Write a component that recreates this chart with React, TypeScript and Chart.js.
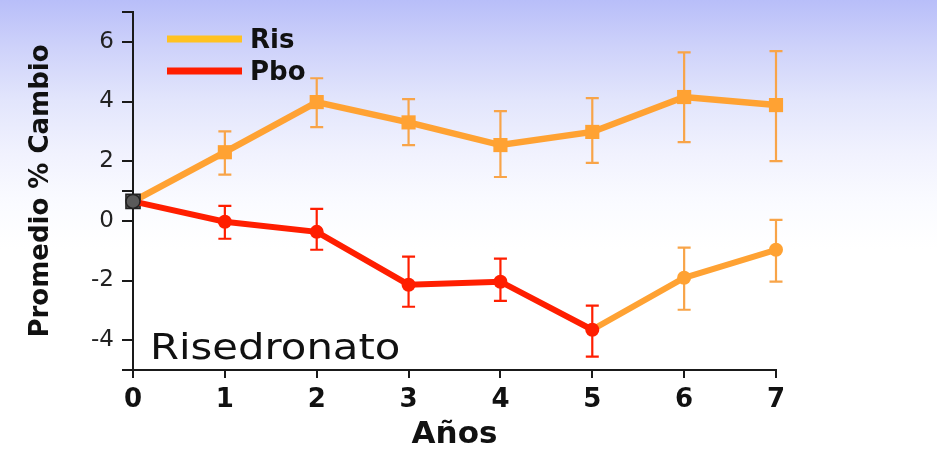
import React, { useEffect, useRef } from "react";
import { Chart, registerables } from "chart.js";

Chart.register(...registerables);

const years = [0, 1, 2, 3, 4, 5, 6, 7];
const risValues = [0.65, 2.3, 3.98, 3.3, 2.54, 2.98, 4.15, 3.88];
const risUpper = [null, 3.0, 4.78, 4.08, 3.68, 4.11, 5.65, 5.69];
const risLower = [null, 1.55, 3.14, 2.54, 1.47, 1.94, 2.64, 2.0];
const pboValues = [0.65, -0.03, -0.37, -2.14, -2.04, -3.65, -1.91, -0.97];
const pboUpper = [null, 0.5, 0.4, -1.2, -1.27, -2.84, -0.9, 0.03];
const pboLower = [null, -0.6, -0.97, -2.88, -2.68, -4.55, -2.98, -2.04];
const yTickValues = [-5, -4, -2, 0, 1, 2, 4, 6, 7];
const yLabelValues = [-4, -2, 0, 2, 4, 6];
const legendLabels = ["Ris", "Pbo"];
const chartLabel = "Risedronato";

const ORANGE = "#FFA233";
const ORANGE_BAR = "#F8A448";
const LEGEND_YELLOW = "#FFC222";
const RED = "#FF1E00";
const GREY = "#5a5a5a";
const AXIS = "#1a1a1a";

export default function App() {
  const ref = useRef<HTMLCanvasElement>(null);

  useEffect(() => {
    document.body.style.margin = "0";
    const canvas = ref.current!;

    const pboColorAt = (i: number) => (i === 0 ? GREY : i >= 6 ? ORANGE : RED);
    const pboBarColorAt = (i: number) => (i >= 6 ? ORANGE_BAR : RED);

    const errorBars = {
      id: "errorBars",
      beforeDatasetsDraw(chart: any) {
        const { ctx, scales } = chart;
        const xs = scales.x;
        const ys = scales.y;
        const draw = (x: number, hi: number, lo: number, color: string) => {
          const px = xs.getPixelForValue(x);
          const pyH = ys.getPixelForValue(hi);
          const pyL = ys.getPixelForValue(lo);
          const cap = 6.5;
          ctx.save();
          ctx.strokeStyle = color;
          ctx.lineWidth = 2.2;
          ctx.beginPath();
          ctx.moveTo(px, pyH);
          ctx.lineTo(px, pyL);
          ctx.moveTo(px - cap, pyH);
          ctx.lineTo(px + cap, pyH);
          ctx.moveTo(px - cap, pyL);
          ctx.lineTo(px + cap, pyL);
          ctx.stroke();
          ctx.restore();
        };
        years.forEach((yr, i) => {
          if (risUpper[i] != null && risLower[i] != null)
            draw(yr, risUpper[i] as number, risLower[i] as number, ORANGE_BAR);
          if (pboUpper[i] != null && pboLower[i] != null)
            draw(yr, pboUpper[i] as number, pboLower[i] as number, pboBarColorAt(i));
        });
      },
    };

    const overlay = {
      id: "overlay",
      afterDraw(chart: any) {
        const { ctx } = chart;
        ctx.save();
        const entries = [
          { text: legendLabels[0], color: LEGEND_YELLOW, y: 39 },
          { text: legendLabels[1], color: RED, y: 71 },
        ];
        entries.forEach((e) => {
          ctx.strokeStyle = e.color;
          ctx.lineWidth = 7;
          ctx.beginPath();
          ctx.moveTo(167, e.y);
          ctx.lineTo(242, e.y);
          ctx.stroke();
          ctx.fillStyle = "#111";
          ctx.font = "bold 26px 'DejaVu Sans'";
          ctx.textBaseline = "middle";
          ctx.textAlign = "left";
          ctx.fillText(e.text, 250, e.y + 2);
        });
        ctx.font = "36px 'DejaVu Sans'";
        ctx.textBaseline = "alphabetic";
        ctx.fillStyle = "#111";
        ctx.translate(150, 359);
        ctx.scale(1.16, 1);
        ctx.fillText(chartLabel, 0, 0);
        ctx.restore();
      },
    };

    const chart = new Chart(canvas, {
      type: "line",
      data: {
        datasets: [
          {
            label: legendLabels[1],
            data: years.map((x, i) => ({ x, y: pboValues[i] })),
            borderColor: RED,
            borderWidth: 6,
            segment: {
              borderColor: (c: any) => (c.p1DataIndex >= 6 ? ORANGE : RED),
            },
            pointStyle: "circle",
            pointRadius: 7,
            pointBackgroundColor: years.map((_, i) => pboColorAt(i)),
            pointBorderColor: years.map((_, i) => (i === 0 ? "#222" : pboColorAt(i))),
            pointBorderWidth: years.map((_, i) => (i === 0 ? 1.5 : 0)),
            clip: false,
            tension: 0,
          },
          {
            label: legendLabels[0],
            data: years.map((x, i) => ({ x, y: risValues[i] })),
            borderColor: ORANGE,
            borderWidth: 6.5,
            pointStyle: "rect",
            pointRadius: 10,
            pointBackgroundColor: years.map((_, i) => (i === 0 ? GREY : ORANGE)),
            pointBorderColor: years.map((_, i) => (i === 0 ? "#222" : ORANGE)),
            pointBorderWidth: years.map((_, i) => (i === 0 ? 1.5 : 0)),
            clip: false,
            tension: 0,
          },
        ],
      },
      options: {
        responsive: false,
        animation: false,
        layout: { padding: { top: 12, right: 161, left: 0, bottom: 0 } },
        plugins: {
          legend: { display: false },
          tooltip: { enabled: false },
        },
        scales: {
          x: {
            type: "linear",
            min: 0,
            max: 7,
            ticks: {
              stepSize: 1,
              color: "#111",
              font: { family: "'DejaVu Sans'", size: 26, weight: "bold" },
              padding: 7,
            },
            grid: {
              drawOnChartArea: false,
              drawTicks: true,
              tickLength: 8,
              color: AXIS,
              lineWidth: 2,
            },
            border: { display: true, color: AXIS, width: 2 },
            title: {
              display: true,
              text: "Años",
              color: "#111",
              font: { family: "'DejaVu Sans'", size: 31, weight: "bold", lineHeight: 1 },
              padding: { top: 0, bottom: 2 },
            },
            afterFit: (s: any) => {
              s.height = 82;
              s.paddingLeft = 0;
              s.paddingRight = 0;
            },
          },
          y: {
            type: "linear",
            min: -5,
            max: 7,
            afterBuildTicks: (s: any) => {
              s.ticks = yTickValues.map((v) => ({ value: v }));
            },
            ticks: {
              color: "#222",
              font: { family: "'DejaVu Sans'", size: 23 },
              padding: 8,
              callback: (v: any) => (yLabelValues.includes(Number(v)) ? String(v) : ""),
            },
            grid: {
              drawOnChartArea: false,
              drawTicks: true,
              tickLength: 11,
              color: AXIS,
              lineWidth: 2,
            },
            border: { display: true, color: AXIS, width: 2 },
            title: {
              display: true,
              text: "Promedio % Cambio",
              color: "#111",
              font: { family: "'DejaVu Sans'", size: 26, weight: "bold", lineHeight: 1 },
              padding: { top: 28, bottom: 0 },
            },
            afterFit: (s: any) => {
              s.width = 133;
              s.paddingTop = 0;
              s.paddingBottom = 0;
            },
          },
        },
      },
      plugins: [errorBars, overlay],
    } as any);

    return () => chart.destroy();
  }, []);

  return (
    <div
      style={{
        width: 937,
        height: 452,
        background:
          "linear-gradient(180deg, #b8bef9 0%, #cdd1fa 10%, #e2e5fc 22%, #f1f2fe 34%, #fafbff 45%, #ffffff 55%)",
      }}
    >
      <canvas ref={ref} width={937} height={452} style={{ display: "block" }} />
    </div>
  );
}
